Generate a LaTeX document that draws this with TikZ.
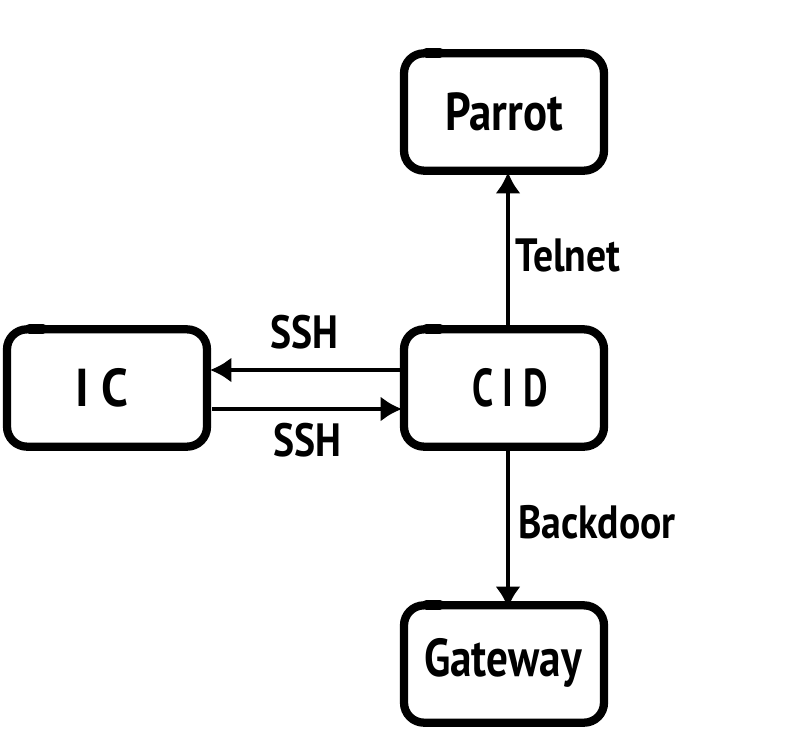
\documentclass[tikz,border=0pt]{standalone}
\usepackage{fontspec}
\setmainfont{PT Sans}
\usetikzlibrary{arrows.meta}
\newcommand{\boxtxt}[2][0.84]{\scalebox{#1}[1]{#2}}
\newcommand{\lbltxt}[1]{\scalebox{0.85}[1]{#1}}
\tikzset{
  sketchbox/.style={draw=black,line width=6.2pt,rounded corners=15pt,minimum width=150pt,minimum height=88pt,inner sep=0pt},
  boxlabel/.style={font=\fontsize{40}{44}\selectfont\bfseries,inner sep=0pt},
  lbl/.style={font=\fontsize{35}{38}\selectfont\bfseries,inner sep=0pt},
  conn/.style={draw=black,line width=3pt,-{Latex[length=16pt,width=19pt]}},
  blob/.style={draw=black,line width=7.5pt,line cap=round},
}
\begin{document}
\begin{tikzpicture}[x=0.75pt,y=-0.75pt]
\useasboundingbox (0,0) rectangle (791,747);
\node[sketchbox] (parrot) at (504,112) {};
\node[sketchbox] (cid) at (504,388) {};
\node[sketchbox] (ic) at (107,388) {};
\node[sketchbox] (gateway) at (504,664) {};
\foreach \b in {parrot,cid,ic,gateway}
  \draw[blob] ([xshift=20pt,yshift=-2.5pt]\b.north west) -- ([xshift=30pt,yshift=-2.5pt]\b.north west);
\node[boxlabel] (tparrot) at (504,112) {\boxtxt{Parrot}};
\node[boxlabel] (tcid) at (510,388) {\boxtxt[0.71]{C I D}};
\node[boxlabel] (tic) at (102,388) {\boxtxt[0.9]{I C}};
\node[boxlabel] (tgateway) at (503,663) {\boxtxt[0.81]{Gateway}};
\coordinate (a1) at (400,370); \coordinate (a2) at (210,370);
\coordinate (b1) at (212,409); \coordinate (b2) at (402,409);
\coordinate (c1) at (508,330); \coordinate (c2) at (508,172);
\coordinate (d1) at (508,449); \coordinate (d2) at (508,608);
\draw[conn] (c1) -- (c2);
\draw[conn] (d1) -- (d2);
\draw[conn] (a1) -- (a2);
\draw[conn] (b1) -- (b2);
\node[lbl] (t1) at (304,332) {\lbltxt{SSH}};
\node[lbl] (t2) at (307,440) {\lbltxt{SSH}};
\node[lbl] (t3) at (568,255) {\lbltxt{Telnet}};
\node[lbl] (t4) at (597,522) {\lbltxt{Backdoor}};
\end{tikzpicture}
\end{document}
